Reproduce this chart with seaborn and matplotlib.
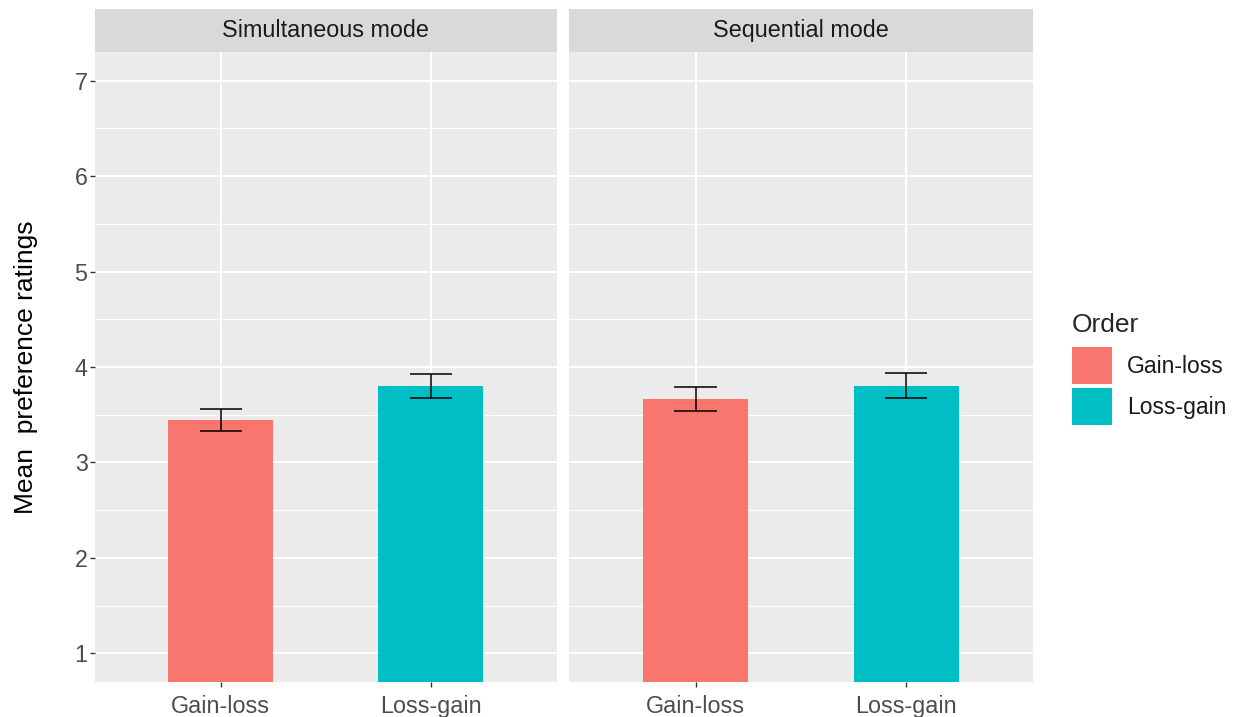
import numpy as np
import pandas as pd
import matplotlib.pyplot as plt
import seaborn as sns
from matplotlib.patches import Patch, Rectangle

# values
modes = ['Simultaneous mode', 'Sequential mode']
orders = ['Gain-loss', 'Loss-gain']
simultaneous_means = [3.445, 3.80]
simultaneous_se = [0.115, 0.125]
sequential_means = [3.665, 3.805]
sequential_se = [0.125, 0.135]
y_ticks = [1, 2, 3, 4, 5, 6, 7]
palette = {'Gain-loss': '#F8766D', 'Loss-gain': '#00BFC4'}

sns.set_theme(style='darkgrid', rc={'axes.facecolor': '#EBEBEB'})
plt.rcParams['font.family'] = ['Liberation Sans', 'DejaVu Sans']

df = pd.DataFrame({
    'mode': np.repeat(modes, len(orders)),
    'order': orders * len(modes),
    'rating': simultaneous_means + sequential_means,
    'se': simultaneous_se + sequential_se,
})

fig = plt.figure(figsize=(12.36, 7.17), dpi=100)
ax1 = fig.add_axes([0.0766, 0.0488, 0.3738, 0.8787])
ax2 = fig.add_axes([0.4604, 0.0488, 0.3752, 0.8787])

for ax, mode in zip([ax1, ax2], modes):
    sub = df[df['mode'] == mode].reset_index(drop=True)
    sns.barplot(data=sub, x='order', y='rating', hue='order', order=orders,
                hue_order=orders, palette=palette, width=0.5, errorbar=None,
                saturation=1, legend=False, linewidth=0, ax=ax)
    x = np.arange(len(sub))
    lo = sub['rating'] - sub['se']
    hi = sub['rating'] + sub['se']
    ax.vlines(x, lo, hi, color='black', lw=1.1, zorder=3)
    ax.hlines(lo, x - 0.1, x + 0.1, color='black', lw=1.1, zorder=3)
    ax.hlines(hi, x - 0.1, x + 0.1, color='black', lw=1.1, zorder=3)

    ax.set_xlim(-0.6, 1.6)
    ax.set_ylim(0.7, 7.3)
    ax.set_yticks(y_ticks)
    ax.set_yticks(np.arange(1.5, 7, 1), minor=True)
    ax.set_axisbelow(True)
    ax.grid(which='major', color='white', lw=1.5)
    ax.grid(which='minor', axis='y', color='white', lw=0.8)
    for sp in ax.spines.values():
        sp.set_visible(False)
    ax.set_xlabel('')
    ax.set_ylabel('')
    ax.tick_params(axis='both', which='major', length=3.6, width=1,
                   color='#333333', labelcolor='#4D4D4D', labelsize=16.8,
                   bottom=True, left=True)
    ax.tick_params(axis='x', pad=6)
    ax.tick_params(axis='y', pad=1.5)
    ax.tick_params(which='minor', length=0)

    # facet strip
    strip_h = 0.0678
    ax.add_patch(Rectangle((0, 1), 1, strip_h, transform=ax.transAxes,
                           facecolor='#D9D9D9', edgecolor='none', clip_on=False))
    ax.text(0.5, 1 + strip_h / 2, mode, transform=ax.transAxes, ha='center',
            va='center', fontsize=16.8, color='#1A1A1A')

ax2.tick_params(axis='y', left=False, labelleft=False)

ax1.set_ylabel('Mean  preference ratings', fontsize=19, color='black')
ax1.yaxis.set_label_coords(-0.123, 0.5)

handles = [Patch(facecolor=palette[o], edgecolor='none', label=o) for o in orders]
leg = fig.legend(handles=handles, title='Order', loc='upper left',
                 bbox_to_anchor=(0.8673, 0.5635), frameon=False, borderpad=0,
                 borderaxespad=0, fontsize=16.5, title_fontsize=19,
                 handlelength=1.73, handleheight=2.143, labelspacing=0.16,
                 handletextpad=0.66, alignment='left')
# a bit more room between the title and the keys, like ggplot
leg._legend_box.sep = 7
for t in leg.get_texts():
    t.set_color('#1A1A1A')

plt.savefig('out.png', dpi=100)
